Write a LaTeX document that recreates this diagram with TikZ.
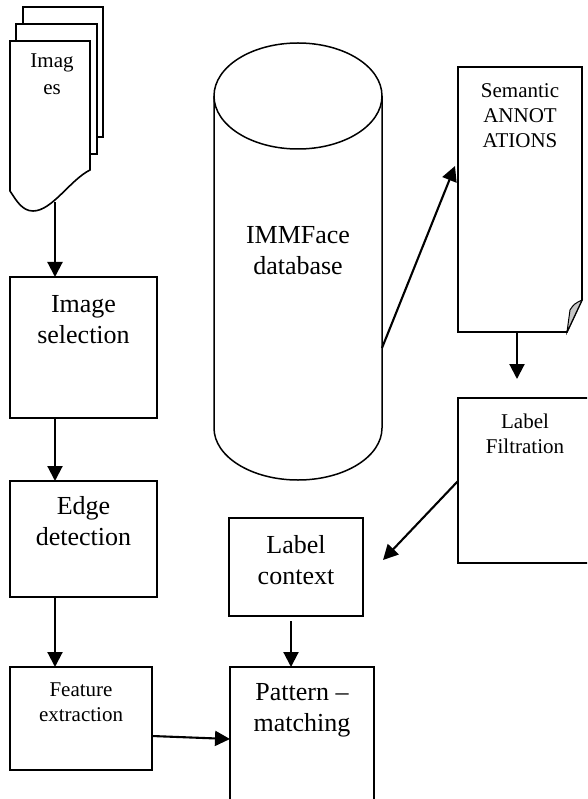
\documentclass[tikz,border=0pt]{standalone}
\usepackage{fontspec}
\setmainfont{Liberation Serif}
\usetikzlibrary{arrows.meta,calc}
\begin{document}
\begin{tikzpicture}[x=1pt,y=-1pt,
  boxline/.style={draw, line width=1.6pt, inner sep=0pt, outer sep=0pt, anchor=north west},
  ghost/.style={inner sep=0pt, outer sep=0pt, anchor=north west},
  bigtxt/.style={font=\fontsize{26}{31}\selectfont, align=center, inner sep=0pt, anchor=north},
  smalltxt/.style={font=\fontsize{21}{25}\selectfont, align=center, inner sep=0pt, anchor=north},
  arr/.style={line width=2.1pt, -{Triangle[length=15pt,width=15pt]}},
  shapeline/.style={draw, line width=1.6pt, fill=white, line join=miter}]
\useasboundingbox (0,0) rectangle (587,799);
\clip (0,0) rectangle (587,799);

% ---- Images document stack
\draw[shapeline] (23,7) rectangle (103,137);
\draw[shapeline] (16,24) rectangle (97,154);
\draw[shapeline] (10,41) -- (90,41) -- (90,170)
   .. controls (70,180) and (52,211) .. (33,211)
   .. controls (22,211) and (16,200) .. (10,191) -- cycle;
\node[smalltxt, font=\fontsize{21}{27}\selectfont] (imagestxt) at (52,54) {Imag\\es};
\coordinate (imgbot) at (55,202);

% ---- left column boxes
\node[boxline, minimum width=147, minimum height=141] (imgsel) at (10,277) {};
\node[bigtxt] (imgseltxt) at (83.5,295) {Image\\selection};
\node[boxline, minimum width=147, minimum height=116] (edge) at (10,481) {};
\node[bigtxt] (edgetxt) at (83.5,496) {Edge\\detection};
\node[boxline, minimum width=142, minimum height=103] (feat) at (10,667) {};
\node[smalltxt] (feattxt) at (81,683) {Feature\\extraction};

% ---- cylinder
\draw[line width=1.5pt] (214,96) -- (214,428)
   .. controls (214,456.7) and (251.6,480) .. (298,480)
   .. controls (344.4,480) and (382,456.7) .. (382,428) -- (382,96);
\draw[line width=1.5pt] (298,96) ellipse [x radius=84, y radius=53];
\node[bigtxt] (dbtxt) at (298,226) {IMMFace\\database};
\coordinate (dbright) at (382,348);

% ---- semantic annotations document
\node[ghost, minimum width=124, minimum height=265] (sem) at (458,67) {};
\draw[line width=1.6pt] (sem.north west) -- (sem.north east) -- ($(sem.south east)+(0,-32)$)
   -- ($(sem.south east)+(-15,0)$) -- (sem.south west) -- cycle;
\draw[line width=1pt, fill=gray!45] ($(sem.south east)+(-15,0)$) -- ($(sem.south east)+(-12,-22)$)
   .. controls ($(sem.south east)+(-8,-28)$) .. ($(sem.south east)+(0,-32)$) -- cycle;
\node[smalltxt] (semtxt) at (520,83) {Semantic\\ANNOT\\ATIONS};

% ---- right and middle boxes
\node[boxline, minimum width=134, minimum height=165] (labfil) at (458,398) {};
\node[smalltxt] (labfiltxt) at (525,414) {Label\\Filtration};
\node[boxline, minimum width=134, minimum height=98] (labctx) at (229,518) {};
\node[bigtxt] (labctxtxt) at (296,535) {Label\\context};
\node[boxline, minimum width=144, minimum height=140] (pat) at (230,667) {};
\node[bigtxt] (pattxt) at (302,683) {Pattern --\\matching};

% ---- connectors
\draw[arr] (imgbot) -- ($(imgsel.north west)+(45,0)$);
\draw[arr] ($(imgsel.south west)+(45,0)$) -- ($(edge.north west)+(45,0)$);
\draw[arr] ($(edge.south west)+(45,0)$) -- ($(feat.north west)+(45,0)$);
\draw[arr] ($(feat.north east)+(0,69)$) -- ($(pat.north west)+(0,72)$);
\draw[arr] ($(labctx.south west)+(62,5)$) -- ($(pat.north west)+(61,0)$);
\coordinate (filtop) at ($(labfil.north west)+(59,-19)$);
\draw[arr] ($(sem.south west)+(59,0)$) -- (filtop);
\coordinate (ctxtip) at ($(labctx.north east)+(20,42)$);
\draw[arr] ($(labfil.north west)+(0,83)$) -- (ctxtip);
\draw[arr] (dbright) -- ($(sem.north west)+(-3,99)$);
\end{tikzpicture}
\end{document}
